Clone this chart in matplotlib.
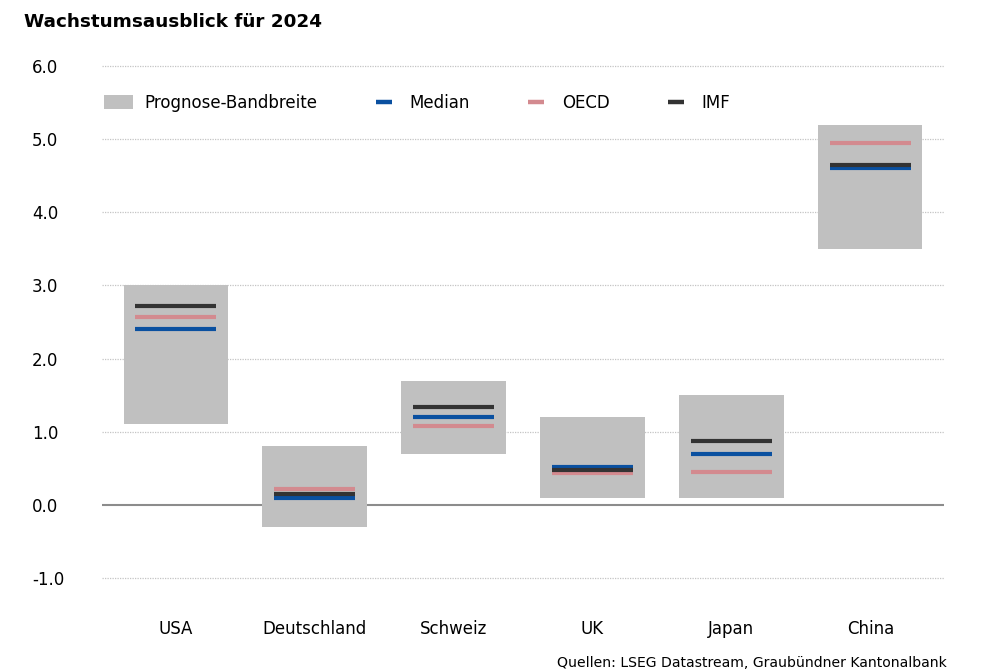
import numpy as np
import matplotlib
matplotlib.use("Agg")
import matplotlib.pyplot as plt
from matplotlib.patches import Patch
from matplotlib.lines import Line2D

plt.rcParams['font.family'] = ['DejaVu Sans']
plt.rcParams['axes.unicode_minus'] = False

# data
countries = ["USA", "Deutschland", "Schweiz", "UK", "Japan", "China"]
band_low = [1.1, -0.3, 0.7, 0.1, 0.1, 3.5]
band_high = [3.0, 0.8, 1.7, 1.2, 1.5, 5.2]
median = [2.4, 0.1, 1.2, 0.52, 0.7, 4.6]
oecd = [2.57, 0.21, 1.08, 0.43, 0.45, 4.95]
imf = [2.72, 0.15, 1.34, 0.47, 0.87, 4.65]
y_ticks = [-1.0, 0.0, 1.0, 2.0, 3.0, 4.0, 5.0, 6.0]

c_band = '#c0c0c0'
c_median = '#0a50a0'
c_oecd = '#d38a8f'
c_imf = '#333333'

fig = plt.figure(figsize=(10, 6.71), dpi=100)
ax = fig.add_axes([0.102, 1 - 578 / 671, 0.842, 512 / 671])

x = np.arange(len(countries))
low = np.array(band_low)
high = np.array(band_high)

# grid + zero line
for v in y_ticks:
    if v == 0:
        ax.axhline(v, color='#8c8c8c', lw=1.5, zorder=1)
    else:
        ax.axhline(v, color='#c4c4c4', lw=0.9, ls=(0, (1, 1)), zorder=1,
                   clip_on=False)

ax.bar(x, high - low, bottom=low, width=0.75, color=c_band, zorder=2)
half = 0.29
ax.hlines(median, x - half, x + half, colors=c_median, lw=3, zorder=3)
ax.hlines(oecd, x - half, x + half, colors=c_oecd, lw=3, zorder=4)
ax.hlines(imf, x - half, x + half, colors=c_imf, lw=3, zorder=5)

ax.set_xlim(-0.53, 5.53)
ax.set_ylim(-1.0, 6.0)
ax.set_yticks(y_ticks)
ax.set_yticklabels([f"{v:.1f}" for v in y_ticks])
ax.set_xticks(x)
ax.set_xticklabels(countries)
ax.tick_params(axis='y', length=0, pad=50.5, labelsize=12)
ax.tick_params(axis='x', length=0, pad=30, labelsize=12)
for lab in ax.get_yticklabels():
    lab.set_horizontalalignment('left')
for s in ax.spines.values():
    s.set_visible(False)

handles = [
    Patch(facecolor=c_band, edgecolor='none'),
    Line2D([], [], color=c_median, marker='_', ls='none', markersize=11.5, mew=3.2),
    Line2D([], [], color=c_oecd, marker='_', ls='none', markersize=11.5, mew=3.2),
    Line2D([], [], color=c_imf, marker='_', ls='none', markersize=11.5, mew=3.2),
]
labels = ["Prognose-Bandbreite", "Median", "OECD", "IMF"]
ax.legend(handles, labels, ncol=4, frameon=False, loc='center left',
          bbox_to_anchor=(0.0024, (578 - 103) / 512), borderpad=0,
          borderaxespad=0, handlelength=1.74, handleheight=0.9,
          handletextpad=0.68, columnspacing=3.1, fontsize=12)

fig.text(0.024, 1 - 22 / 671, "Wachstumsausblick für 2024", fontsize=13.2,
         fontweight='bold', va='center', ha='left')
fig.text(0.947, 1 - 663 / 671, "Quellen: LSEG Datastream, Graubündner Kantonalbank",
         fontsize=10.1, va='center', ha='right')

fig.savefig("out.png", dpi=100)
